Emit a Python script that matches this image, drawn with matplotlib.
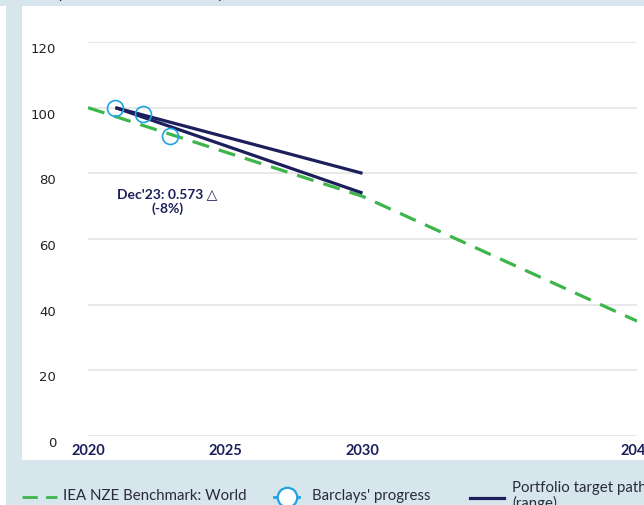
import matplotlib
matplotlib.use("Agg")
import matplotlib.pyplot as plt
from matplotlib.lines import Line2D
from matplotlib.patches import Rectangle

# data
bench_years = [2020, 2030, 2040]
bench_values = [100, 73, 35]
progress_years = [2021, 2022, 2023]
progress_values = [100, 98, 91.5]
target_years = [2021, 2030]
target_upper = [100, 80]
target_lower = [100, 74]
y_ticks = [0, 20, 40, 60, 80, 100, 120]
x_ticks = [2020, 2025, 2030, 2040]
legend_labels = ["IEA NZE Benchmark: World", "Barclays' progress", "Portfolio target path\n(range)"]
note_text = "Dec'23: 0.573 \u25b3\n(-8%)"
title_text = "Physical emissions intensity: tCO\u2082/t cement"

BG = "#d6e6ec"
GREEN = "#3db54a"
NAVY = "#1c1f5b"
BLUE = "#1fa4e0"
W, H = 644, 506

fig = plt.figure(figsize=(W / 100, H / 100), dpi=100)
fig.patch.set_facecolor(BG)

# white strip on the far left and the white panel
fig.add_artist(Rectangle((0, 0), 6 / W, 1 - 7 / H, transform=fig.transFigure,
                         facecolor="white", edgecolor="none", zorder=0))
fig.add_artist(Rectangle((22 / W, 1 - 461 / H), 1, (461 - 7) / H, transform=fig.transFigure,
                         facecolor="white", edgecolor="none", zorder=0))

# title, cut off by the top edge
fig.text(40 / W, 1 + 2 / H, title_text, va="baseline", ha="left", color=NAVY,
         fontsize=11, family=["Lato", "DejaVu Sans"])

ax = fig.add_axes([88 / W, 1 - 437 / H, (637 - 88) / W, (437 - 43) / H])
ax.set_facecolor("none")
ax.set_xlim(2020, 2040)
ax.set_ylim(0, 120)
for s in ax.spines.values():
    s.set_visible(False)

ax.set_yticks(y_ticks)
ax.set_yticklabels([str(v) for v in y_ticks], va="top")
ax.tick_params(axis="y", length=0, pad=23, labelsize=9.5, labelcolor="#222222")
ax.set_xticks(x_ticks)
ax.set_xticklabels([str(v) for v in x_ticks], fontweight="bold", family="Lato")
ax.tick_params(axis="x", length=0, pad=5, labelsize=10.5, labelcolor=NAVY)
ax.grid(axis="y", color="#e6e6e6", linewidth=1.3)
ax.grid(axis="x", visible=False)
ax.set_axisbelow(True)

ax.plot(bench_years, bench_values, color=GREEN, linewidth=2.3, dashes=(5.4, 3.2), zorder=2)
ax.plot(target_years, target_upper, color=NAVY, linewidth=2.3, zorder=3, solid_capstyle="butt")
ax.plot(target_years, target_lower, color=NAVY, linewidth=2.3, zorder=3, solid_capstyle="butt")
ax.plot(progress_years, progress_values, linestyle="none", marker="o", markersize=11.5,
        markerfacecolor="none", markeredgecolor=BLUE, markeredgewidth=1.2, zorder=4)

ax.text(2022.9, 71.7, note_text, ha="center", va="center", multialignment="center",
        color=NAVY, fontsize=10, fontweight="bold", family=["Lato", "DejaVu Sans"])

# legend at the bottom
ly = 1 - 498 / H
fig.add_artist(Line2D([22 / W, 57 / W], [ly, ly], transform=fig.transFigure,
                      color=GREEN, linewidth=2, dashes=(5.5, 3)))
fig.add_artist(Line2D([274 / W, 299 / W], [ly, ly], transform=fig.transFigure,
                      color=BLUE, linewidth=2))
fig.add_artist(Line2D([286.5 / W], [ly], transform=fig.transFigure, marker="o",
                      markersize=14, markerfacecolor="white", markeredgecolor=BLUE,
                      markeredgewidth=1.6))
fig.add_artist(Line2D([470 / W, 504 / W], [1 - 499 / H, 1 - 499 / H], transform=fig.transFigure,
                      color=NAVY, linewidth=2.3))
lab_kw = dict(fontsize=10.8, color="#2a2a3a", family="Lato", ha="left")
fig.text(63 / W, 1 - 496 / H, legend_labels[0], va="center", **lab_kw)
fig.text(312 / W, 1 - 496 / H, legend_labels[1], va="center", **lab_kw)
fig.text(512 / W, 1 - 481 / H, legend_labels[2], va="top", linespacing=1.05, **lab_kw)

fig.savefig("out.png", dpi=100, facecolor=BG)
